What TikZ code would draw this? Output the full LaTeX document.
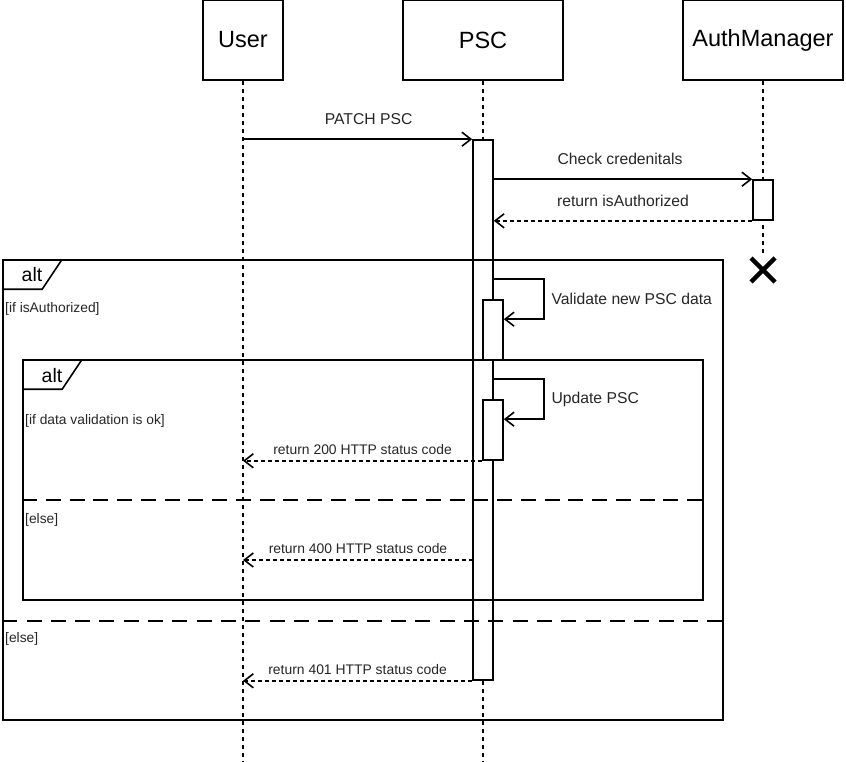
\documentclass[tikz,border=0pt]{standalone}
\usepackage{fontspec}
\setmainfont{Liberation Sans}
\usetikzlibrary{arrows.meta,calc}

\begin{document}
\begin{tikzpicture}[x=1pt, y=-1pt,
    head/.style={draw, line width=1.6pt, minimum width=80pt, minimum height=80pt, font=\fontsize{23.5}{27}\selectfont},
    bar/.style={draw, fill=white, line width=1.6pt, minimum width=20pt, inner sep=0pt},
    lifeline/.style={line width=1.3pt, dash pattern=on 4pt off 4pt},
    msg/.style={line width=1.6pt, -{Straight Barb[length=9pt,width=14pt]}},
    ret/.style={msg, dash pattern=on 4pt off 3pt},
    lbl/.style={inner sep=2pt, text=black!85, font=\fontsize{15.7}{18}\selectfont},
    small/.style={inner sep=2pt, text=black!85, font=\fontsize{13.9}{16}\selectfont},
    frame/.style={draw, line width=1.6pt, inner sep=0pt},
    sep/.style={line width=1.6pt, dash pattern=on 15pt off #1},
    guard/.style={anchor=west, inner sep=2pt, text=black!85, font=\fontsize{13.8}{16}\selectfont}]
    \useasboundingbox (0,0) rectangle (846,762);

    % heads and lifelines
    \node[head] (user) at (243,40) {User};
    \node[head, minimum width=160pt] (psc) at (483,40) {PSC};
    \node[head, minimum width=160pt] (auth) at (763,40) {AuthManager};

    \foreach \n in {user, psc} {
        \draw[lifeline] (\n.south) -- ++(0,682);
    }
    \draw[lifeline] (auth.south) -- ++(0,175);
    \draw[line width=4.5pt] (751,258) -- (775,282) (751,282) -- (775,258);

    % activations
    \node[bar, minimum height=540pt] (pscbar) at (483,410) {};
    \node[bar, minimum height=40pt] (authbar) at (763,200) {};
    \node[bar, minimum height=60pt] (valbar) at (493,330) {};
    \node[bar, minimum height=60pt] (updbar) at (493,430) {};
    \coordinate (r400) at (473,560);

    % messages
    \draw[msg] (user |- pscbar.north) -- node[lbl, xshift=11pt, yshift=20pt] {PATCH PSC} (pscbar.north west);
    \draw[msg] (authbar.north west -| pscbar.east) -- node[lbl, xshift=-3pt, yshift=20pt] {Check credenitals} (authbar.north west);
    \draw[ret] (authbar.south west) -- node[lbl, yshift=20pt] {return isAuthorized} (authbar.south west -| pscbar.east);
    \draw[msg] ($(valbar.north -| pscbar.east)+(0,-20)$) -- ++(50,0)
        -- node[lbl, anchor=west, xshift=5pt] {Validate new PSC data} ++(0,40) -- ([yshift=-20pt]valbar.north east);
    \draw[msg] ($(updbar.north -| pscbar.east)+(0,-20)$) -- ++(50,0)
        -- node[lbl, anchor=west, xshift=5pt] {Update PSC} ++(0,40) -- ([yshift=-20pt]updbar.north east);
    \draw[ret] (updbar.south west) -- node[small, yshift=11pt] {return 200 HTTP status code} (updbar.south west -| user);
    \draw[ret] (r400) -- node[small, yshift=11pt] {return 400 HTTP status code} (r400 -| user);
    \draw[ret] (pscbar.south west) -- node[small, yshift=11pt] {return 401 HTTP status code} (pscbar.south west -| user);

    % alt frames
    \node[frame, minimum width=720pt, minimum height=460pt] (outer) at (363,490) {};
    \draw[line width=1.6pt] (outer.north west) ++(60,0) -- ++(-20,30) -- ++(-40,0);
    \node[inner sep=0pt, font=\fontsize{19.5}{22}\selectfont] (outertag) at (32,275) {alt};
    \node[guard] (g1) at (3,309) {[if isAuthorized]};
    \draw[sep=9.31pt] (outer.west |- 0,621) -- (outer.east |- 0,621);
    \node[guard] (g2) at (3,639) {[else]};

    \node[frame, minimum width=680pt, minimum height=240pt] (inner) at (363,480) {};
    \draw[line width=1.6pt] (inner.north west) ++(60,0) -- ++(-20,30) -- ++(-40,0);
    \node[inner sep=0pt, font=\fontsize{19.5}{22}\selectfont] (innertag) at (52,376) {alt};
    \node[guard] (g3) at (23,421) {[if data validation is ok]};
    \draw[sep=8.75pt] (inner.west |- 0,500) -- (inner.east |- 0,500);
    \node[guard] (g4) at (23,520) {[else]};
\end{tikzpicture}
\end{document}
